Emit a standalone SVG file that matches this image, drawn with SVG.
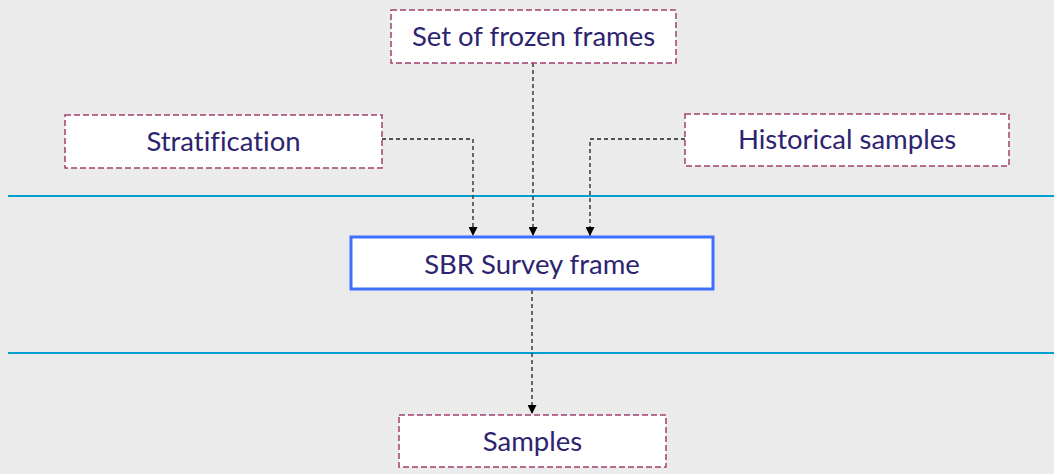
<svg xmlns="http://www.w3.org/2000/svg" width="1054" height="474" viewBox="0 0 1054 474">
<defs>
<marker id="arr" viewBox="0 0 10 10" refX="10" refY="5" markerWidth="9" markerHeight="9" markerUnits="userSpaceOnUse" orient="auto">
<path d="M0,0 L10,5 L0,10 z" fill="#000"/>
</marker>
<style>
.dbox{fill:#fff;stroke:#a3406f;stroke-width:1.5;stroke-dasharray:6,3}
.main{fill:#fff;stroke:#3f6fff;stroke-width:3}
.lbl{font-family:Lato,"Liberation Sans",sans-serif;font-size:27.5px;fill:#2d2470;text-anchor:middle;dominant-baseline:central;font-variant-ligatures:none}
.conn{fill:none;stroke:#222;stroke-width:1.3;stroke-dasharray:4,3}
.sep{stroke:#00a0d2;stroke-width:2.2}
</style>
</defs>
<rect width="1054" height="474" fill="#ebebeb"/>
<line class="sep" x1="8" y1="196" x2="1054" y2="196"/>
<line class="sep" x1="8" y1="353" x2="1054" y2="353"/>
<g id="connectors">
<path class="conn" d="M382,139 H473 V236" marker-end="url(#arr)"/>
<path class="conn" d="M533,63 V236" marker-end="url(#arr)"/>
<path class="conn" d="M685,139 H590 V236" marker-end="url(#arr)"/>
<path class="conn" d="M532,290 V414" marker-end="url(#arr)"/>
</g>
<g id="frozen">
<rect class="dbox" x="391" y="10" width="285" height="53"/>
<text class="lbl" x="533.5" y="35">Set of frozen frames</text>
</g>
<g id="stratification">
<rect class="dbox" x="65" y="115" width="317" height="53"/>
<text class="lbl" x="223.5" y="140">Stratification</text>
</g>
<g id="historical">
<rect class="dbox" x="685" y="114" width="324" height="52"/>
<text class="lbl" x="847" y="138">Historical samples</text>
</g>
<g id="sbr">
<rect class="main" x="351" y="237" width="362" height="52"/>
<text class="lbl" x="532" y="263">SBR Survey frame</text>
</g>
<g id="samples">
<rect class="dbox" x="399" y="415" width="267" height="52"/>
<text class="lbl" x="532.5" y="440">Samples</text>
</g>
</svg>
